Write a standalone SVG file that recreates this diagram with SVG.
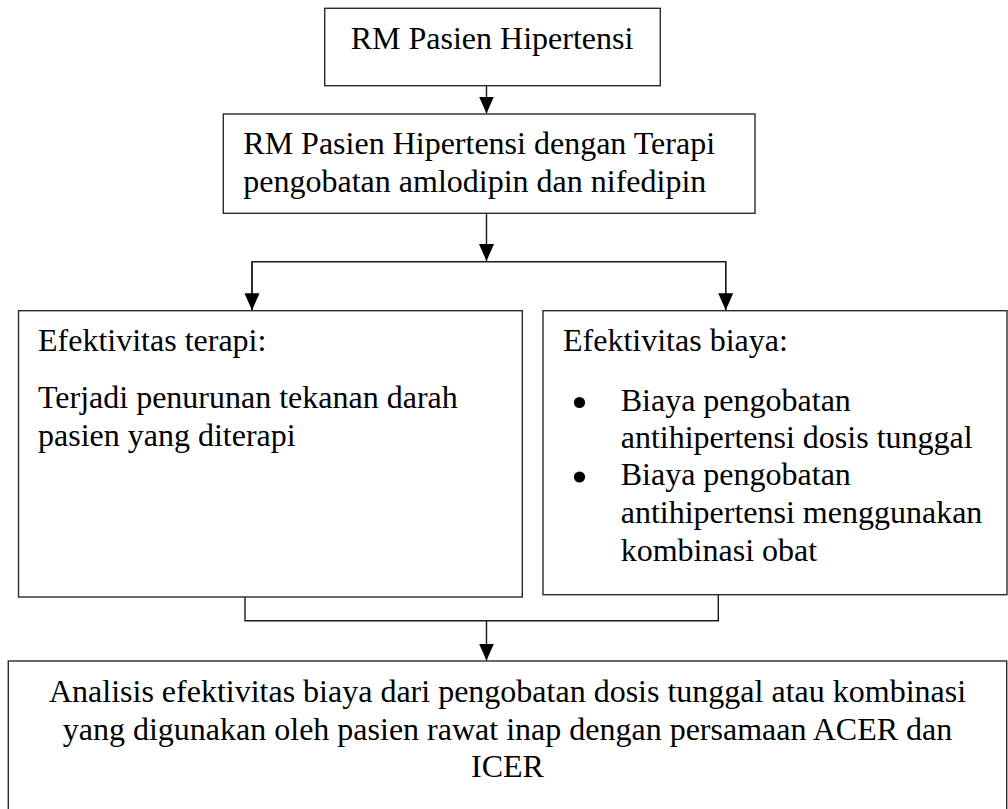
<svg xmlns="http://www.w3.org/2000/svg" width="1008" height="809" viewBox="0 0 1008 809">
<style>
.box{fill:#ffffff;stroke:#2a2a2a;stroke-width:1.4}
.t{font-family:"Liberation Serif","Times New Roman",serif;font-size:32px;fill:#000000}
.c{text-anchor:middle}
.ln{fill:none;stroke:#1a1a1a;stroke-width:1.4}
</style>
<defs>
<marker id="ah" markerUnits="userSpaceOnUse" markerWidth="17" markerHeight="15" refX="17" refY="7.5" orient="auto" viewBox="0 0 17 15">
<path d="M0,0 L17,7.5 L0,15 z" fill="#000000"/>
</marker>
</defs>
<rect width="1008" height="809" fill="#ffffff"/>
<g id="connectors">
<line class="ln" x1="486.5" y1="85.7" x2="486.5" y2="113.5" marker-end="url(#ah)"/>
<line class="ln" x1="486.5" y1="213.3" x2="486.5" y2="261" marker-end="url(#ah)"/>
<polyline class="ln" points="252,310 252,261.7 725.7,261.7 725.7,310"/>
<line class="ln" x1="252" y1="261.7" x2="252" y2="310.3" marker-end="url(#ah)"/>
<line class="ln" x1="725.7" y1="261.7" x2="725.7" y2="310.3" marker-end="url(#ah)"/>
<polyline class="ln" points="245,597 245,620.7 718.3,620.7 718.3,594.7"/>
<line class="ln" x1="486.5" y1="620.7" x2="486.5" y2="660.6" marker-end="url(#ah)"/>
</g>
<g id="node-rm">
<rect class="box" x="324.7" y="8.3" width="335.6" height="77.4"/>
<text class="t c" x="492" y="49.3">RM Pasien Hipertensi</text>
</g>
<g id="node-rm-terapi">
<rect class="box" x="223.3" y="114" width="531.7" height="99.3"/>
<text class="t" x="243.3" y="154">RM Pasien Hipertensi dengan Terapi</text>
<text class="t" x="243.3" y="191.5">pengobatan amlodipin dan nifedipin</text>
</g>
<g id="node-efektivitas-terapi">
<rect class="box" x="18.5" y="310.7" width="503.8" height="286.3"/>
<text class="t" x="38" y="351">Efektivitas terapi:</text>
<text class="t" x="38" y="408">Terjadi penurunan tekanan darah</text>
<text class="t" x="38" y="445.5">pasien yang diterapi</text>
</g>
<g id="node-efektivitas-biaya">
<rect class="box" x="543" y="310.7" width="464" height="284"/>
<text class="t" x="563" y="351">Efektivitas biaya:</text>
<circle cx="579.5" cy="402.5" r="5.6" fill="#000000"/>
<text class="t" x="620.7" y="410.5">Biaya pengobatan</text>
<text class="t" x="620.7" y="448">antihipertensi dosis tunggal</text>
<circle cx="579.5" cy="477" r="5.6" fill="#000000"/>
<text class="t" x="620.7" y="485">Biaya pengobatan</text>
<text class="t" x="620.7" y="522.5">antihipertensi menggunakan</text>
<text class="t" x="620.7" y="560.5">kombinasi obat</text>
</g>
<g id="node-analisis">
<rect class="box" x="8.3" y="661" width="998.4" height="170"/>
<text class="t c" x="507.5" y="702">Analisis efektivitas biaya dari pengobatan dosis tunggal atau kombinasi</text>
<text class="t c" x="507.5" y="739.5">yang digunakan oleh pasien rawat inap dengan persamaan ACER dan</text>
<text class="t c" x="507.5" y="777">ICER</text>
</g>
</svg>
